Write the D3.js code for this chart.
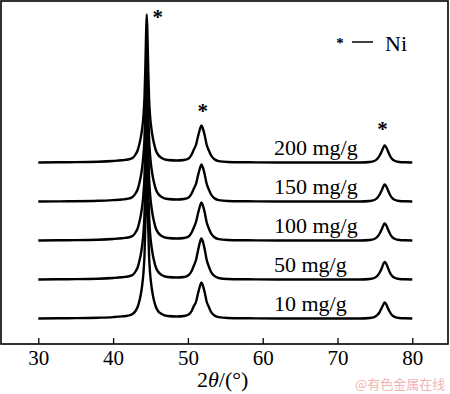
<!DOCTYPE html>
<html>
<head>
<meta charset="utf-8">
<script src="https://cdn.jsdelivr.net/npm/d3@7"></script>
<style>
    html, body { margin: 0; padding: 0; background: #fff; }
    #chart { width: 450px; height: 394px; }
    text { font-family: "Liberation Serif", "Times New Roman", serif; fill: #000; }
</style>
</head>
<body>
<div id="chart"></div>
<script>
// 2-theta grid (deg) shared by all patterns
const twoTheta = [30, 34, 38, 40, 41.2, 42.0, 42.6, 43.0, 43.3, 43.5, 43.7, 43.9, 44.05, 44.2, 44.3, 44.4, 44.5, 44.6, 44.7, 44.8, 44.95, 45.1, 45.3, 45.5, 45.7, 46.0, 46.5, 47.3, 48.5, 49.5, 50.1, 50.5, 50.8, 51.1, 51.35, 51.6, 51.8, 52.0, 52.25, 52.5, 52.8, 53.1, 53.5, 54.1, 55.3, 58, 62, 66, 70, 73, 74.3, 74.9, 75.3, 75.6, 75.9, 76.1, 76.3, 76.5, 76.7, 77.0, 77.3, 77.7, 78.3, 79, 80];

// intensities (a.u.) above each pattern's own baseline
const i10  = [0, 0.3, 0.8, 1.4, 2.1, 2.9, 4.5, 7.5, 12, 17, 24, 34, 45, 64, 90, 122, 145, 123, 90, 64, 45, 34, 24, 17, 12, 7.5, 4.5, 2.5, 2, 2.5, 4, 7.5, 12.5, 17, 25, 32, 36, 33, 26, 17, 11.5, 6.5, 3.3, 1.4, 0.5, 0.2, 0, 0, 0, 0, 0.5, 1.4, 3.3, 6, 10.5, 13.5, 16, 14.5, 11, 6.5, 3.3, 1.4, 0.5, 0.2, 0];
const i50  = [0, 0.3, 0.8, 1.5, 2.2, 3.0, 4.5, 8, 12.5, 18, 25, 35, 46, 66, 93, 126, 149, 126, 93, 66, 46, 35, 25, 18, 12.5, 8, 4.5, 2.5, 2, 2.5, 4.5, 8.5, 14, 20, 29, 37, 41, 38, 30, 20, 13, 7.5, 3.8, 1.5, 0.5, 0.2, 0, 0, 0, 0, 0.5, 1.5, 3.5, 6.5, 11, 15, 17.5, 16, 12.5, 7, 3.5, 1.5, 0.5, 0.2, 0];
const i100 = [0, 0.3, 0.8, 1.5, 2.2, 3.0, 4.5, 8, 12.5, 18, 25, 35, 46, 65, 92, 125, 147, 125, 92, 65, 46, 35, 25, 18, 12.5, 8, 4.5, 2.5, 2, 2.5, 4, 8, 13, 19, 27, 34, 38, 35, 28, 18.5, 12, 7, 3.5, 1.4, 0.5, 0.2, 0, 0, 0, 0, 0.5, 1.5, 3.5, 6.5, 11, 14.5, 17, 15.5, 12, 7, 3.5, 1.5, 0.5, 0.2, 0];
const i150 = [0, 0.2, 0.7, 1.4, 2.0, 2.8, 4.5, 8, 12.5, 18, 25, 35, 46, 64, 90, 122, 146, 124, 91, 65, 46, 35, 25, 18, 12.5, 8, 4.5, 2.5, 2, 2.5, 4, 8, 13, 18, 26, 33, 37, 34, 27, 18, 12, 7, 3.5, 1.4, 0.5, 0.2, 0, 0, 0, 0, 0.5, 1.5, 3.5, 6.5, 11, 14.5, 17, 15.5, 12, 7, 3.5, 1.5, 0.5, 0.2, 0];
const i200 = [0, 0.3, 0.8, 1.5, 2.2, 3.0, 4.5, 8, 12.5, 18, 25, 35, 46, 66, 92, 125, 148, 125, 92, 66, 46, 35, 25, 18, 12.5, 8, 4.5, 2.5, 2, 2.5, 4, 8, 13, 18, 26, 33, 37, 34, 27, 18, 12, 7, 3.5, 1.4, 0.5, 0.2, 0, 0, 0, 0, 0.5, 1.5, 3.5, 6.5, 11, 14.5, 17, 15.5, 12, 7, 3.5, 1.5, 0.5, 0.2, 0];

const sampleLabels = ["10 mg/g", "50 mg/g", "100 mg/g", "150 mg/g", "200 mg/g"];
const sampleData = [i10, i50, i100, i150, i200];
const stackOffsets = [0, 39, 78, 117, 156];

const xTicks = [30, 40, 50, 60, 70, 80];
// Ni reflections marked with * (2-theta, intensity above top pattern)
const niPeaks = [44.5, 51.8, 76.3];
const niMarkY = [149, 55, 37];

const W = 450, H = 394;
const svg = d3.select("#chart").append("svg")
    .attr("width", W)
    .attr("height", H);

svg.append("rect").attr("width", W).attr("height", H).attr("fill", "#fff");

const x = d3.scaleLinear().domain([30, 80]).range([38.3, 412.3]);
const y = d3.scaleLinear().domain([0, 300]).range([318.5, 18.5]);

// plot frame
svg.append("rect")
    .attr("x", 1).attr("y", 1)
    .attr("width", 447).attr("height", 343)
    .attr("fill", "none")
    .attr("stroke", "#000")
    .attr("stroke-width", 1.6);

const xAxis = svg.append("g")
    .attr("transform", "translate(0,344)")
    .call(d3.axisBottom(x).tickValues(xTicks).tickSize(-6).tickSizeOuter(0).tickPadding(6));
xAxis.select(".domain").remove();
xAxis.selectAll("line").attr("stroke", "#000").attr("stroke-width", 1.3);
xAxis.selectAll("text")
    .style("font-family", '"Liberation Serif", "Times New Roman", serif')
    .style("font-size", "21px")
    .attr("fill", "#000");

// axis title: 2θ/(°)
const title = svg.append("text")
    .attr("x", 197).attr("y", 387)
    .style("font-size", "22px");
title.append("tspan").text("2");
title.append("tspan").style("font-style", "italic").text("θ");
title.append("tspan").text("/(");
title.append("tspan").text("°");
title.append("tspan").text(")");

// diffraction patterns
const line = d3.line()
    .x(d => x(d[0]))
    .y(d => d[1])
    .curve(d3.curveMonotoneX);

sampleData.forEach(function(vals, k) {
    const pts = twoTheta.map((t, i) => [t, y(vals[i] + stackOffsets[k])]);
    svg.append("path")
        .attr("d", line(pts))
        .attr("fill", "none")
        .attr("stroke", "#000")
        .attr("stroke-width", 2.4)
        .attr("stroke-linejoin", "round");

    svg.append("text")
        .attr("x", 274)
        .attr("y", y(stackOffsets[k]) - 7.5)
        .style("font-size", "22px")
        .text(sampleLabels[k]);
});

// Ni markers
const markDx = [11, 1.5, -2];
niPeaks.forEach(function(p, i) {
    svg.append("text")
        .attr("x", x(p) + markDx[i])
        .attr("y", y(niMarkY[i] + stackOffsets[4]) + 10)
        .attr("text-anchor", "middle")
        .style("font-size", "21px")
        .style("font-weight", "bold")
        .text("*");
});

// legend
svg.append("text")
    .attr("x", 340).attr("y", 48)
    .attr("text-anchor", "middle")
    .style("font-size", "15px")
    .style("font-weight", "bold")
    .text("*");
svg.append("line")
    .attr("x1", 352).attr("x2", 373)
    .attr("y1", 42).attr("y2", 42)
    .attr("stroke", "#000")
    .attr("stroke-width", 1.5);
svg.append("text")
    .attr("x", 385).attr("y", 51)
    .style("font-size", "22px")
    .text("Ni");

// watermark
svg.append("text")
    .attr("x", 355).attr("y", 389)
    .style("font-family", '"Noto Sans CJK SC", sans-serif')
    .style("font-size", "13px")
    .style("fill", "#f2b4b4")
    .text("@有色金属在线");
</script>
</body>
</html>
